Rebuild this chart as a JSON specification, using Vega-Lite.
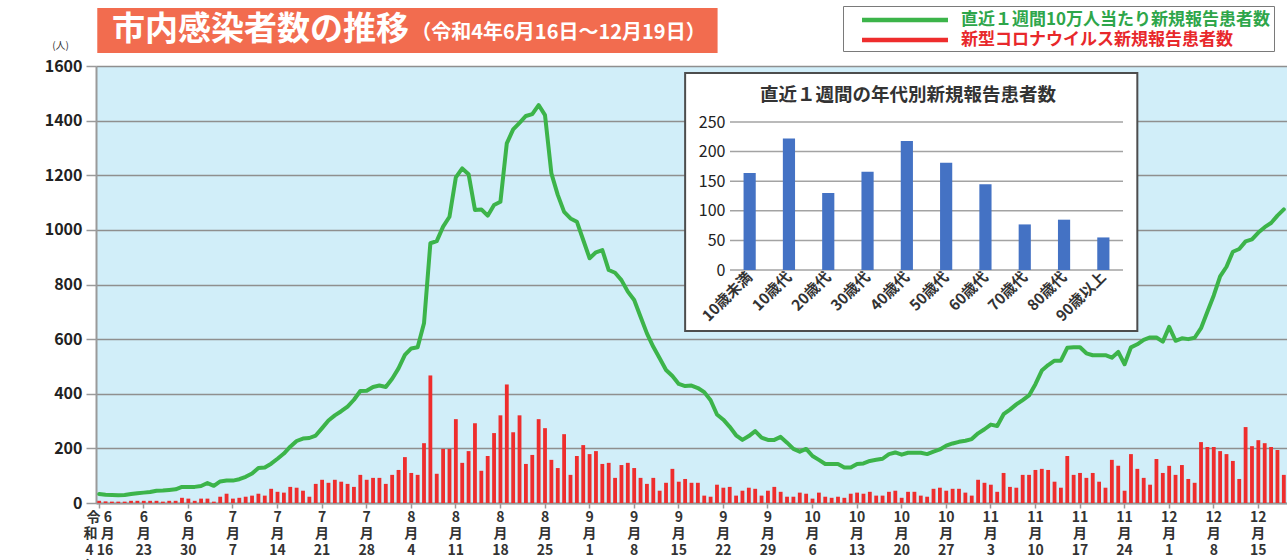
{
  "$schema": "https://vega.github.io/schema/vega-lite/v6.json",
  "width": 1191,
  "height": 437,
  "autosize": {"type": "none"},
  "padding": {"left": 96, "top": 66, "right": 0, "bottom": 57},
  "background": "white",
  "config": {
    "font": "Noto Sans CJK JP",
    "view": {"fill": "#D1EEF9", "stroke": null}
  },
  "datasets": {
    "daily": [
      {"date":"2022-06-16","cases":8,"rate":33},{"date":"2022-06-17","cases":6,"rate":30},{"date":"2022-06-18","cases":5,"rate":29},{"date":"2022-06-19","cases":5,"rate":28},{"date":"2022-06-20","cases":5,"rate":29},{"date":"2022-06-21","cases":8,"rate":33},{"date":"2022-06-22","cases":8,"rate":36},{"date":"2022-06-23","cases":8,"rate":38},{"date":"2022-06-24","cases":8,"rate":40},{"date":"2022-06-25","cases":8,"rate":45},{"date":"2022-06-26","cases":5,"rate":46},{"date":"2022-06-27","cases":8,"rate":48},{"date":"2022-06-28","cases":8,"rate":50},{"date":"2022-06-29","cases":19,"rate":59},{"date":"2022-06-30","cases":16,"rate":59},
      {"date":"2022-07-01","cases":8,"rate":59},{"date":"2022-07-02","cases":16,"rate":62},{"date":"2022-07-03","cases":16,"rate":73},{"date":"2022-07-04","cases":5,"rate":63},{"date":"2022-07-05","cases":23,"rate":79},{"date":"2022-07-06","cases":34,"rate":82},{"date":"2022-07-07","cases":16,"rate":82},{"date":"2022-07-08","cases":19,"rate":87},{"date":"2022-07-09","cases":23,"rate":96},{"date":"2022-07-10","cases":27,"rate":108},{"date":"2022-07-11","cases":34,"rate":128},{"date":"2022-07-12","cases":27,"rate":130},{"date":"2022-07-13","cases":52,"rate":144},{"date":"2022-07-14","cases":41,"rate":162},{"date":"2022-07-15","cases":38,"rate":181},{"date":"2022-07-16","cases":59,"rate":206},{"date":"2022-07-17","cases":56,"rate":227},{"date":"2022-07-18","cases":45,"rate":236},{"date":"2022-07-19","cases":23,"rate":238},{"date":"2022-07-20","cases":70,"rate":247},{"date":"2022-07-21","cases":85,"rate":274},{"date":"2022-07-22","cases":74,"rate":302},{"date":"2022-07-23","cases":85,"rate":321},{"date":"2022-07-24","cases":78,"rate":336},{"date":"2022-07-25","cases":70,"rate":353},{"date":"2022-07-26","cases":59,"rate":378},{"date":"2022-07-27","cases":103,"rate":410},{"date":"2022-07-28","cases":85,"rate":411},{"date":"2022-07-29","cases":92,"rate":425},{"date":"2022-07-30","cases":92,"rate":430},{"date":"2022-07-31","cases":70,"rate":425},
      {"date":"2022-08-01","cases":103,"rate":455},{"date":"2022-08-02","cases":121,"rate":493},{"date":"2022-08-03","cases":168,"rate":542},{"date":"2022-08-04","cases":110,"rate":566},{"date":"2022-08-05","cases":103,"rate":570},{"date":"2022-08-06","cases":219,"rate":658},{"date":"2022-08-07","cases":467,"rate":951},{"date":"2022-08-08","cases":107,"rate":959},{"date":"2022-08-09","cases":198,"rate":1012},{"date":"2022-08-10","cases":198,"rate":1048},{"date":"2022-08-11","cases":307,"rate":1192},{"date":"2022-08-12","cases":147,"rate":1225},{"date":"2022-08-13","cases":190,"rate":1204},{"date":"2022-08-14","cases":292,"rate":1073},{"date":"2022-08-15","cases":118,"rate":1075},{"date":"2022-08-16","cases":172,"rate":1052},{"date":"2022-08-17","cases":256,"rate":1091},{"date":"2022-08-18","cases":321,"rate":1103},{"date":"2022-08-19","cases":434,"rate":1317},{"date":"2022-08-20","cases":259,"rate":1368},{"date":"2022-08-21","cases":321,"rate":1392},{"date":"2022-08-22","cases":143,"rate":1417},{"date":"2022-08-23","cases":176,"rate":1424},{"date":"2022-08-24","cases":307,"rate":1457},{"date":"2022-08-25","cases":274,"rate":1420},{"date":"2022-08-26","cases":158,"rate":1207},{"date":"2022-08-27","cases":128,"rate":1128},{"date":"2022-08-28","cases":252,"rate":1066},{"date":"2022-08-29","cases":103,"rate":1042},{"date":"2022-08-30","cases":172,"rate":1030},{"date":"2022-08-31","cases":212,"rate":963},
      {"date":"2022-09-01","cases":179,"rate":896},{"date":"2022-09-02","cases":190,"rate":918},{"date":"2022-09-03","cases":143,"rate":926},{"date":"2022-09-04","cases":147,"rate":853},{"date":"2022-09-05","cases":92,"rate":843},{"date":"2022-09-06","cases":139,"rate":816},{"date":"2022-09-07","cases":147,"rate":774},{"date":"2022-09-08","cases":128,"rate":743},{"date":"2022-09-09","cases":92,"rate":682},{"date":"2022-09-10","cases":70,"rate":621},{"date":"2022-09-11","cases":92,"rate":572},{"date":"2022-09-12","cases":45,"rate":530},{"date":"2022-09-13","cases":74,"rate":487},{"date":"2022-09-14","cases":125,"rate":465},{"date":"2022-09-15","cases":78,"rate":436},{"date":"2022-09-16","cases":88,"rate":428},{"date":"2022-09-17","cases":74,"rate":430},{"date":"2022-09-18","cases":74,"rate":421},{"date":"2022-09-19","cases":27,"rate":406},{"date":"2022-09-20","cases":23,"rate":376},{"date":"2022-09-21","cases":67,"rate":324},{"date":"2022-09-22","cases":56,"rate":305},{"date":"2022-09-23","cases":59,"rate":279},{"date":"2022-09-24","cases":27,"rate":248},{"date":"2022-09-25","cases":45,"rate":231},{"date":"2022-09-26","cases":56,"rate":245},{"date":"2022-09-27","cases":52,"rate":263},{"date":"2022-09-28","cases":27,"rate":239},{"date":"2022-09-29","cases":45,"rate":231},{"date":"2022-09-30","cases":59,"rate":231},
      {"date":"2022-10-01","cases":41,"rate":242},{"date":"2022-10-02","cases":23,"rate":221},{"date":"2022-10-03","cases":23,"rate":198},{"date":"2022-10-04","cases":38,"rate":188},{"date":"2022-10-05","cases":34,"rate":198},{"date":"2022-10-06","cases":16,"rate":172},{"date":"2022-10-07","cases":38,"rate":158},{"date":"2022-10-08","cases":23,"rate":143},{"date":"2022-10-09","cases":19,"rate":143},{"date":"2022-10-10","cases":23,"rate":143},{"date":"2022-10-11","cases":19,"rate":130},{"date":"2022-10-12","cases":34,"rate":130},{"date":"2022-10-13","cases":38,"rate":143},{"date":"2022-10-14","cases":34,"rate":145},{"date":"2022-10-15","cases":41,"rate":154},{"date":"2022-10-16","cases":27,"rate":158},{"date":"2022-10-17","cases":27,"rate":162},{"date":"2022-10-18","cases":41,"rate":179},{"date":"2022-10-19","cases":45,"rate":185},{"date":"2022-10-20","cases":19,"rate":177},{"date":"2022-10-21","cases":41,"rate":184},{"date":"2022-10-22","cases":41,"rate":184},{"date":"2022-10-23","cases":27,"rate":184},{"date":"2022-10-24","cases":23,"rate":179},{"date":"2022-10-25","cases":52,"rate":188},{"date":"2022-10-26","cases":56,"rate":196},{"date":"2022-10-27","cases":45,"rate":210},{"date":"2022-10-28","cases":52,"rate":218},{"date":"2022-10-29","cases":52,"rate":224},{"date":"2022-10-30","cases":38,"rate":228},{"date":"2022-10-31","cases":27,"rate":234},
      {"date":"2022-11-01","cases":85,"rate":255},{"date":"2022-11-02","cases":74,"rate":270},{"date":"2022-11-03","cases":67,"rate":287},{"date":"2022-11-04","cases":41,"rate":282},{"date":"2022-11-05","cases":110,"rate":325},{"date":"2022-11-06","cases":59,"rate":342},{"date":"2022-11-07","cases":56,"rate":361},{"date":"2022-11-08","cases":103,"rate":377},{"date":"2022-11-09","cases":103,"rate":394},{"date":"2022-11-10","cases":121,"rate":435},{"date":"2022-11-11","cases":125,"rate":485},{"date":"2022-11-12","cases":121,"rate":505},{"date":"2022-11-13","cases":78,"rate":521},{"date":"2022-11-14","cases":56,"rate":521},{"date":"2022-11-15","cases":172,"rate":568},{"date":"2022-11-16","cases":103,"rate":570},{"date":"2022-11-17","cases":110,"rate":570},{"date":"2022-11-18","cases":92,"rate":548},{"date":"2022-11-19","cases":110,"rate":541},{"date":"2022-11-20","cases":78,"rate":541},{"date":"2022-11-21","cases":56,"rate":541},{"date":"2022-11-22","cases":158,"rate":532},{"date":"2022-11-23","cases":136,"rate":553},{"date":"2022-11-24","cases":45,"rate":508},{"date":"2022-11-25","cases":179,"rate":570},{"date":"2022-11-26","cases":125,"rate":581},{"date":"2022-11-27","cases":92,"rate":597},{"date":"2022-11-28","cases":67,"rate":606},{"date":"2022-11-29","cases":161,"rate":606},{"date":"2022-11-30","cases":110,"rate":591},
      {"date":"2022-12-01","cases":136,"rate":645},{"date":"2022-12-02","cases":103,"rate":594},{"date":"2022-12-03","cases":139,"rate":603},{"date":"2022-12-04","cases":88,"rate":600},{"date":"2022-12-05","cases":74,"rate":605},{"date":"2022-12-06","cases":223,"rate":640},{"date":"2022-12-07","cases":205,"rate":700},{"date":"2022-12-08","cases":205,"rate":760},{"date":"2022-12-09","cases":190,"rate":830},{"date":"2022-12-10","cases":179,"rate":865},{"date":"2022-12-11","cases":154,"rate":920},{"date":"2022-12-12","cases":88,"rate":930},{"date":"2022-12-13","cases":278,"rate":958},{"date":"2022-12-14","cases":208,"rate":965},{"date":"2022-12-15","cases":230,"rate":990},{"date":"2022-12-16","cases":219,"rate":1010},{"date":"2022-12-17","cases":205,"rate":1025},{"date":"2022-12-18","cases":194,"rate":1052},{"date":"2022-12-19","cases":103,"rate":1075}
    ],
    "age": [
      {"age":"10歳未満","count":164},{"age":"10歳代","count":222},{"age":"20歳代","count":130},{"age":"30歳代","count":166},{"age":"40歳代","count":218},{"age":"50歳代","count":181},{"age":"60歳代","count":145},{"age":"70歳代","count":77},{"age":"80歳代","count":85},{"age":"90歳以上","count":55}
    ],
    "ageTicks": [{"v":0},{"v":50},{"v":100},{"v":150},{"v":200},{"v":250}]
  },
  "layer": [
    {
      "layer": [
        {
          "data": {"name": "daily"},
          "encoding": {
            "x": {
              "field": "date", "type": "ordinal",
              "scale": {"paddingInner": 0.4, "paddingOuter": 0.2},
              "axis": {
                "values": ["2022-06-16","2022-06-23","2022-06-30","2022-07-07","2022-07-14","2022-07-21","2022-07-28","2022-08-04","2022-08-11","2022-08-18","2022-08-25","2022-09-01","2022-09-08","2022-09-15","2022-09-22","2022-09-29","2022-10-06","2022-10-13","2022-10-20","2022-10-27","2022-11-03","2022-11-10","2022-11-17","2022-11-24","2022-12-01","2022-12-08","2022-12-15"],
                "labelExpr": "datum.value == '2022-06-16' ? ['令 6', '和 月', '4 16', '年 日'] : ['' + toNumber(slice(datum.value, 5, 7)), '月', '' + toNumber(slice(datum.value, 8, 10)), '日']",
                "labelAngle": 0, "labelAlign": "center", "labelBaseline": "top",
                "labelFontSize": 14, "labelFontWeight": "bold", "labelColor": "#333333",
                "labelLineHeight": 16.5, "labelPadding": 2, "labelOverlap": false,
                "tickSize": 5, "tickColor": "#9a9a9a", "tickWidth": 1.5,
                "domainColor": "#9a9a9a", "domainWidth": 2,
                "grid": false, "title": null
              }
            }
          },
          "layer": [
            {
              "mark": {"type": "bar"},
              "encoding": {
                "y": {
                  "field": "cases", "type": "quantitative",
                  "scale": {"domain": [0, 1600], "nice": false},
                  "axis": {
                    "values": [0, 200, 400, 600, 800, 1000, 1200, 1400, 1600], "format": "d",
                    "title": "(人)", "titleAngle": 0, "titleX": -36, "titleY": -21,
                    "titleAlign": "center", "titleBaseline": "middle",
                    "titleFontSize": 10, "titleFontWeight": "normal", "titleColor": "#333333",
                    "labelFontSize": 16, "labelFontWeight": "bold", "labelColor": "#222222", "labelPadding": 4,
                    "tickSize": 10, "tickColor": "#9a9a9a", "tickWidth": 1.5,
                    "domainColor": "#9a9a9a", "domainWidth": 2,
                    "grid": true, "gridColor": "#8f8f8f", "gridWidth": 1.5
                  }
                },
                "color": {
                  "datum": "新型コロナウイルス新規報告患者数", "type": "nominal",
                  "scale": {"domain": ["直近１週間10万人当たり新規報告患者数", "新型コロナウイルス新規報告患者数"], "range": ["#3CB44A", "#EE2D2D"]},
                  "legend": {
                    "title": null, "orient": "none", "legendX": 747, "legendY": -60, "direction": "vertical",
                    "symbolType": "M-4,-0.21H4V0.21H-4Z", "symbolSize": 462, "symbolStrokeWidth": 0, "symbolOffset": 48,
                    "labelOffset": 45, "labelFontSize": 17, "labelFontWeight": "bold", "labelLimit": 500,
                    "labelColor": {"expr": "datum.value == '直近１週間10万人当たり新規報告患者数' ? '#2EA64A' : '#E8282B'"},
                    "fillColor": "white", "strokeColor": "#7a7a7a", "padding": 3, "rowPadding": 1
                  }
                }
              }
            },
            {
              "mark": {"type": "line", "strokeWidth": 4, "strokeJoin": "round", "strokeCap": "round"},
              "encoding": {
                "y": {"field": "rate", "type": "quantitative", "title": "(人)"},
                "color": {"datum": "直近１週間10万人当たり新規報告患者数", "type": "nominal"}
              }
            }
          ]
        },
        {
          "data": {"values": [{}]},
          "mark": {"type": "rect", "color": "#F26C4F"},
          "encoding": {
            "x": {"datum": "2022-06-16", "type": "ordinal", "bandPosition": 0},
            "x2": {"datum": "2022-09-21", "bandPosition": 0.66},
            "y": {"datum": 1812, "type": "quantitative"},
            "y2": {"datum": 1648}
          }
        },
        {
          "data": {"values": [{"t": "市内感染者数の推移"}]},
          "mark": {"type": "text", "align": "left", "baseline": "middle", "fontSize": 33, "fontWeight": "bold", "color": "white"},
          "encoding": {
            "x": {"datum": "2022-06-18", "type": "ordinal"},
            "y": {"datum": 1730, "type": "quantitative"},
            "text": {"field": "t"}
          }
        },
        {
          "data": {"values": [{"t": "（令和4年6月16日～12月19日）"}]},
          "mark": {"type": "text", "align": "left", "baseline": "middle", "fontSize": 20, "fontWeight": "bold", "color": "white"},
          "encoding": {
            "x": {"datum": "2022-08-04", "type": "ordinal"},
            "y": {"datum": 1722, "type": "quantitative"},
            "text": {"field": "t"}
          }
        },
        {
          "data": {"values": [{}]},
          "mark": {"type": "rect", "fill": "white", "stroke": "#4d4d4d", "strokeWidth": 2},
          "encoding": {
            "x": {"datum": "2022-09-16", "type": "ordinal"},
            "x2": {"datum": "2022-11-26"},
            "y": {"datum": 1574, "type": "quantitative"},
            "y2": {"datum": 630}
          }
        },
        {
          "data": {"values": [{"t": "直近１週間の年代別新規報告患者数"}]},
          "mark": {"type": "text", "align": "center", "baseline": "middle", "fontSize": 18.5, "fontWeight": "bold", "color": "#333333"},
          "encoding": {
            "x": {"datum": "2022-10-21", "type": "ordinal"},
            "y": {"datum": 1494, "type": "quantitative"},
            "text": {"field": "t"}
          }
        }
      ]
    },
    {
      "layer": [
        {
          "data": {"name": "ageTicks"},
          "mark": {"type": "rule", "color": "#a3a3a3", "strokeWidth": 1.5, "xOffset": -19.65, "x2Offset": 19.65},
          "encoding": {
            "x": {"datum": "10歳未満", "type": "nominal"},
            "x2": {"datum": "90歳以上"},
            "y": {"field": "v", "type": "quantitative"}
          }
        },
        {
          "data": {"name": "age"},
          "mark": {"type": "bar", "color": "#4472C4"},
          "encoding": {
            "x": {
              "field": "age", "type": "nominal", "sort": null,
              "scale": {"domain": ["10歳未満","10歳代","20歳代","30歳代","40歳代","50歳代","60歳代","70歳代","80歳代","90歳以上"], "range": [634, 1027], "paddingInner": 0.69, "paddingOuter": 0.345},
              "axis": {"orient": "bottom", "offset": -233, "zindex": 1, "title": null, "labelAngle": -45, "labelFontSize": 15, "labelFontWeight": "bold", "labelColor": "#333333", "labelPadding": 4, "ticks": false, "domain": false, "grid": false}
            },
            "y": {
              "field": "count", "type": "quantitative",
              "scale": {"domain": [0, 250], "range": [204, 56], "nice": false},
              "axis": {"orient": "left", "offset": -634, "zindex": 1, "title": null, "values": [0, 50, 100, 150, 200, 250], "ticks": false, "domain": false, "grid": false, "labelFontSize": 16, "labelColor": "#222222", "labelPadding": 5}
            }
          }
        }
      ]
    }
  ],
  "resolve": {"scale": {"x": "independent", "y": "independent"}, "axis": {"x": "independent", "y": "independent"}}
}
